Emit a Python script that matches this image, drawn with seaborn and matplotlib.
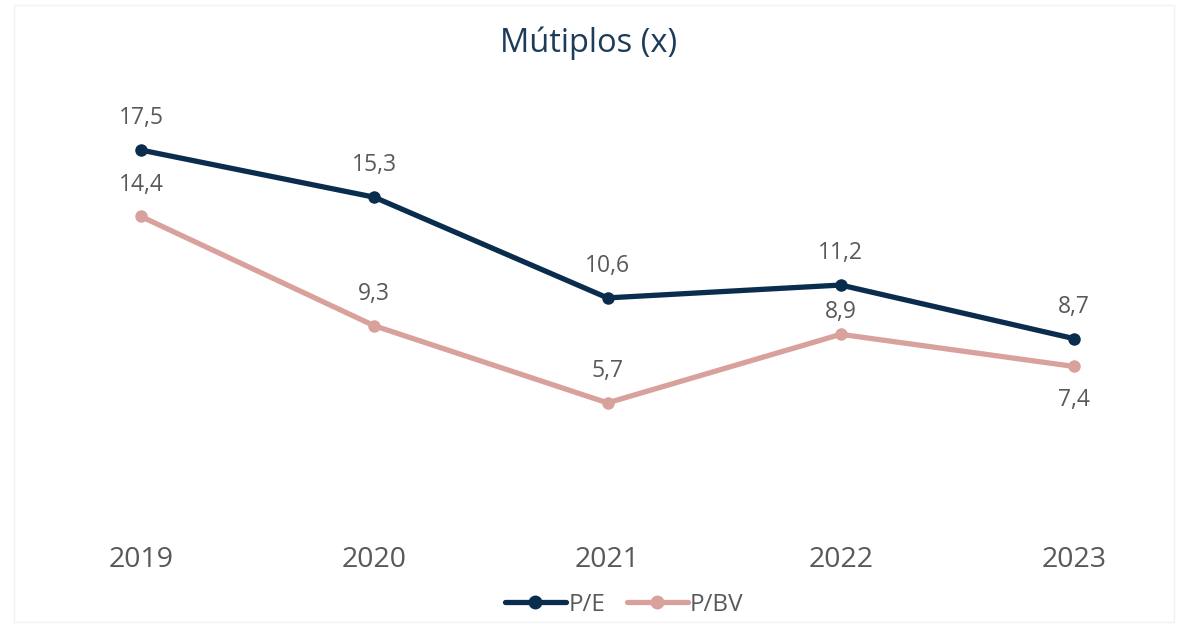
import pandas as pd
import matplotlib.pyplot as plt
import seaborn as sns

# data
years = ['2019', '2020', '2021', '2022', '2023']
pe = [17.5, 15.3, 10.6, 11.2, 8.7]
pbv = [14.4, 9.3, 5.7, 8.9, 7.4]
series_names = ['P/E', 'P/BV']
colors = {'P/E': '#0b2d4d', 'P/BV': '#d9a19b'}

df = pd.DataFrame({'Year': years * 2,
                   'Value': pe + pbv,
                   'Series': ['P/E'] * len(years) + ['P/BV'] * len(years)})
df['x'] = df['Year'].map({y: i for i, y in enumerate(years)})

sns.set_style('white')
plt.rcParams['font.family'] = ['Open Sans', 'DejaVu Sans']

fig = plt.figure(figsize=(11.78, 6.25), dpi=100)
ax = fig.add_axes([141 / 1178, 1 - 525 / 625, (1074 - 141) / 1178, (525 - 96.5) / 625])

sns.lineplot(data=df, x='x', y='Value', hue='Series', hue_order=series_names,
             palette=colors, marker='o', markersize=9, markeredgewidth=0,
             linewidth=3.8, ax=ax, clip_on=False, legend=False)

# value labels (P/BV 2023 sits below its point)
for i, v in enumerate(pe):
    ax.annotate(f'{v:.1f}'.replace('.', ','), (i, v), xytext=(0, 23), textcoords='offset points',
                ha='center', va='center', fontsize=16.5, color='#595959')
for i, v in enumerate(pbv):
    dy = -24 if i == 4 else (16 if i == 3 else 23)
    ax.annotate(f'{v:.1f}'.replace('.', ','), (i, v), xytext=(0, dy), textcoords='offset points',
                ha='center', va='center', fontsize=16.5, color='#595959')

ax.set_xlim(0, 4)
ax.set_ylim(0, 20)
ax.set_xticks(range(len(years)))
ax.set_xticklabels(years, fontsize=20.5, color='#595959')
ax.tick_params(axis='x', length=0, pad=15)
ax.set_yticks([])
ax.set_xlabel('')
ax.set_ylabel('')
for s in ax.spines.values():
    s.set_visible(False)

fig.text(0.5, 1 - 43 / 625, 'Mútiplos (x)', ha='center', va='center', fontsize=23.5, color='#1d3c5c')

handles = [plt.Line2D([], [], color=colors[n], marker='o', markersize=9, linewidth=3.8) for n in series_names]
fig.legend(handles, series_names, loc='center', bbox_to_anchor=(0.53, 1 - 605 / 625), ncol=2,
           frameon=False, fontsize=17.5, labelcolor='#595959', handlelength=2.5,
           handletextpad=0.1, columnspacing=0.9)

# faint outer border
fig.patches.append(plt.Rectangle((14 / 1178, 0.005), 1160 / 1178, 1 - 5 / 625 - 0.005,
                                 transform=fig.transFigure, fill=False, edgecolor='#f2f2f2', linewidth=1))

fig.savefig('out.png', dpi=100)
